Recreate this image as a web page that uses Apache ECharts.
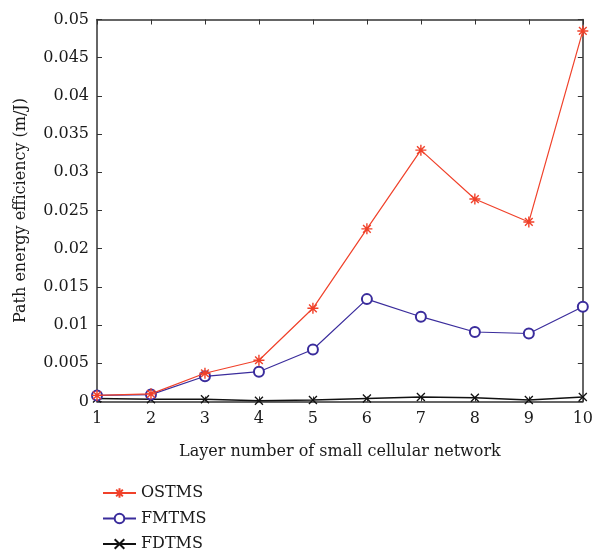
<!DOCTYPE html>
<html><head><meta charset="utf-8">
<script src="https://cdn.jsdelivr.net/npm/echarts@6/dist/echarts.min.js"></script>
<style>html,body{margin:0;padding:0;background:#fff}#c{width:596px;height:555px}</style>
</head><body><div id="c"></div>
<script>
const categories = ['1','2','3','4','5','6','7','8','9','10'];
const ostms = [0.0008, 0.0010, 0.0037, 0.0054, 0.0122, 0.0226, 0.0329, 0.0265, 0.0235, 0.0485];
const fmtms = [0.0008, 0.0009, 0.0033, 0.0039, 0.0068, 0.0134, 0.0111, 0.0091, 0.0089, 0.0124];
const fdtms = [0.0004, 0.0003, 0.0003, 0.0001, 0.0002, 0.0004, 0.0006, 0.0005, 0.0002, 0.0006];
const yTicks = ['0','0.005','0.01','0.015','0.02','0.025','0.03','0.035','0.04','0.045','0.05'];
const seriesNames = ['OSTMS','FMTMS','FDTMS'];

const FONT = 'DejaVu Serif';
const FS = 16;
const AX = '#333';
const star = 'path://M0,-10L0,10M-10,0L10,0M-7,-7L7,7M-7,7L7,-7';
const cross = 'path://M-7,-7L7,7M-7,7L7,-7';
const chart = echarts.init(document.getElementById('c'), null, {renderer:'canvas'});
const axisBase = {
  axisLine:{show:true,onZero:false,lineStyle:{color:AX,width:1.5}},
  axisTick:{show:true,inside:true,length:5,lineStyle:{color:AX,width:1}},
  splitLine:{show:false}
};
chart.setOption({
  animation:false,
  textStyle:{fontFamily:FONT},
  grid:{left:97,top:19.5,right:12,bottom:153.5,containLabel:false},
  xAxis:[
    Object.assign({type:'category',data:categories,boundaryGap:false,position:'bottom',
      name:'Layer number of small cellular network',nameLocation:'middle',nameGap:42,
      nameTextStyle:{fontFamily:FONT,fontSize:FS,color:'#1a1a1a'},
      axisLabel:{fontFamily:FONT,fontSize:FS,color:'#1a1a1a',margin:9}},axisBase),
    Object.assign({type:'category',data:categories,boundaryGap:false,position:'top',
      axisLabel:{show:false}},axisBase)
  ],
  yAxis:[
    Object.assign({type:'value',min:0,max:0.05,interval:0.005,position:'left',
      name:'Path energy efficiency (m/J)',nameLocation:'middle',nameGap:68,
      nameTextStyle:{fontFamily:FONT,fontSize:FS,color:'#1a1a1a'},
      axisLabel:{fontFamily:FONT,fontSize:FS,color:'#1a1a1a',margin:8,
        formatter:(v,i)=>yTicks[Math.round(v/0.005)]}},axisBase),
    Object.assign({type:'value',min:0,max:0.05,interval:0.005,position:'right',
      axisLabel:{show:false}},axisBase)
  ],
  legend:{
    orient:'vertical',left:97,top:480,itemWidth:33,itemHeight:12,itemGap:9.5,height:80,
    textStyle:{fontFamily:FONT,fontSize:FS,color:'#1a1a1a'},
    data:seriesNames
  },
  series:[
    {name:seriesNames[0],type:'line',data:ostms,symbol:star,symbolSize:11,
      lineStyle:{color:'#f0412a',width:1.2},
      itemStyle:{color:'rgba(0,0,0,0)',borderColor:'#f0412a',borderWidth:1.4},z:4},
    {name:seriesNames[1],type:'line',data:fmtms,symbol:'emptyCircle',symbolSize:10,
      lineStyle:{color:'#3a2c9c',width:1.2},
      itemStyle:{color:'#3a2c9c',borderWidth:1},z:3},
    {name:seriesNames[2],type:'line',data:fdtms,symbol:cross,symbolSize:8,
      lineStyle:{color:'#111',width:1.5},
      itemStyle:{color:'rgba(0,0,0,0)',borderColor:'#111',borderWidth:1.3},z:2}
  ]
});
</script></body></html>
